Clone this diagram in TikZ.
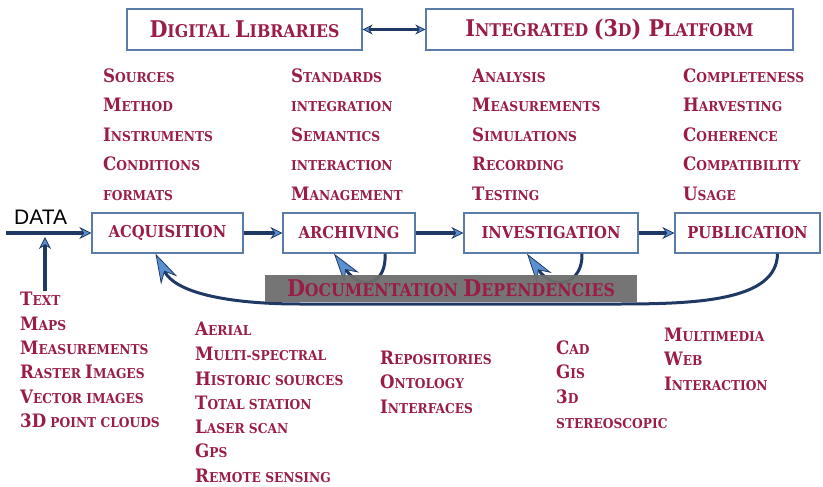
\documentclass[tikz,border=0pt]{standalone}
\usepackage{fontspec}
\setmainfont{Liberation Serif}
\newfontfamily\heavy{DejaVu Serif Condensed}[UprightFont={DejaVu Serif Condensed Bold}]
\newfontfamily\datafont{Liberation Sans}
\usetikzlibrary{arrows.meta}

\definecolor{crim}{HTML}{9A1C48}
\definecolor{boxedge}{HTML}{5B7BAB}
\definecolor{navy}{HTML}{1F3864}
\definecolor{tipblue}{HTML}{5B8FD0}
\definecolor{docgray}{HTML}{6E6E6E}

% hand-made heavy small caps: large initial, reduced capitals after it
\def\bgsize{18.5}\def\smsize{13.6}
\newcommand\Bg[1]{{\fontsize{\bgsize}{\bgsize}\selectfont #1}}
\newcommand\Sm[1]{{\fontsize{\smsize}{\smsize}\selectfont\MakeUppercase{#1}}}
\newcommand\sck[2]{\Bg{#1}\Sm{#2}}
\newcommand\titlesizes{\def\bgsize{23}\def\smsize{17.5}}

\tikzset{
  item/.style={anchor=base west, inner sep=0pt, text=crim, font=\heavy},
  stage/.style={draw=boxedge, line width=1.3pt, fill=white, text=crim,
    font=\heavy\fontsize{16.4}{16.4}\selectfont, minimum height=40pt, inner sep=0pt},
  topbox/.style={draw=boxedge, line width=1.3pt, fill=white, text=crim,
    font=\heavy\titlesizes, minimum height=41pt, inner sep=0pt},
  docbox/.style={fill=docgray, fill opacity=0.95, text opacity=1, text=crim,
    font=\heavy\titlesizes, minimum height=27pt, inner sep=0pt},
  flow/.style={draw=navy, line width=3.5pt,
    -{Stealth[length=12pt,width=12pt,fill=tipblue,line width=0.8pt]}},
  link/.style={draw=navy, line width=2.5pt,
    {Stealth[length=10pt,width=10pt,fill=tipblue,line width=0.8pt]}-{Stealth[length=10pt,width=10pt,fill=tipblue,line width=0.8pt]}},
  depend/.style={draw=navy, line width=3pt,
    -{Stealth[length=30pt,width=18pt,fill=tipblue,line width=0.8pt]}},
}

\begin{document}
\begin{tikzpicture}[x=1pt,y=-1pt]
\useasboundingbox (0,0) rectangle (823,487);

% platform boxes
\node[topbox, minimum width=235pt] (dl) at (244.5,29.5) {\sck{D}{igital }\sck{L}{ibraries}};
\node[topbox, minimum width=367pt] (ip) at (609.5,29.5) {\sck{I}{ntegrated }\Bg{(3}\Sm{d}\Bg{) }\sck{P}{latform}};
\draw[link] (dl.east) -- (ip.west);

% workflow stages
\node[stage, minimum width=151pt] (acq) at (167.5,233) {ACQUISITION};
\node[stage, minimum width=132pt] (arch) at (349,233) {ARCHIVING};
\node[stage, minimum width=174pt] (inv) at (551,233) {INVESTIGATION};
\node[stage, minimum width=145pt] (pub) at (747.5,233) {PUBLICATION};

\draw[flow] (acq.east) -- (arch.west);
\draw[flow] (arch.east) -- (inv.west);
\draw[flow] (inv.east) -- (pub.west);

% incoming data
\node[anchor=base west, inner sep=0pt, font=\datafont\fontsize{21}{21}\selectfont] (data) at (14,224) {DATA};
\coordinate (din) at (6,233);
\coordinate (tin) at (45,291);
\coordinate (tjoin) at (45,237);
\draw[flow] (din) -- (acq.west);
\draw[flow] (tin) -- (tjoin);

% documentation dependencies
\draw[depend] ([xshift=30pt]pub.south) .. controls (777,300) and (700,304) .. (620,304)
  -- (300,304) .. controls (225,304) and (175,292) .. ([xshift=-12pt]acq.south);
\draw[depend] ([xshift=36pt]arch.south) .. controls (387,284) and (362,292) .. ([xshift=-15pt]arch.south);
\draw[depend] ([xshift=31pt]inv.south) .. controls (583,284) and (554,292) .. ([xshift=-24pt]inv.south);
\node[docbox, minimum width=372pt] (doc) at (451,288.5) {\sck{D}{ocumentation }\sck{D}{ependencies}};

% acquisition properties
\node[item] (a1) at (103,83) {\sck{S}{ources}};
\node[item] (a2) at (103,112) {\sck{M}{ethod}};
\node[item] (a3) at (103,142) {\sck{I}{nstruments}};
\node[item] (a4) at (103,171) {\sck{C}{onditions}};
\node[item] (a5) at (103,200) {\Sm{formats}};

% archiving properties
\node[item] (b1) at (291,83) {\sck{S}{tandards}};
\node[item] (b2) at (291,112) {\Sm{integration}};
\node[item] (b3) at (291,142) {\sck{S}{emantics}};
\node[item] (b4) at (291,171) {\Sm{interaction}};
\node[item] (b5) at (291,200) {\sck{M}{anagement}};

% investigation properties
\node[item] (c1) at (472,83) {\sck{A}{nalysis}};
\node[item] (c2) at (472,112) {\sck{M}{easurements}};
\node[item] (c3) at (472,142) {\sck{S}{imulations}};
\node[item] (c4) at (472,171) {\sck{R}{ecording}};
\node[item] (c5) at (472,200) {\sck{T}{esting}};

% publication properties
\node[item] (d1) at (683,83) {\sck{C}{ompleteness}};
\node[item] (d2) at (683,112) {\sck{H}{arvesting}};
\node[item] (d3) at (683,142) {\sck{C}{oherence}};
\node[item] (d4) at (683,171) {\sck{C}{ompatibility}};
\node[item] (d5) at (683,200) {\sck{U}{sage}};

% data types
\node[item] (e1) at (20,305) {\sck{T}{ext}};
\node[item] (e2) at (20,330) {\sck{M}{aps}};
\node[item] (e3) at (20,354) {\sck{M}{easurements}};
\node[item] (e4) at (20,378) {\sck{R}{aster }\sck{I}{mages}};
\node[item] (e5) at (20,403) {\sck{V}{ector }\Sm{images}};
\node[item] (e6) at (20,427) {\Bg{3D}\Sm{ point clouds}};

% capture techniques
\node[item] (f1) at (195,335) {\sck{A}{erial}};
\node[item] (f2) at (195,360) {\sck{M}{ulti-spectral}};
\node[item] (f3) at (195,385) {\sck{H}{istoric sources}};
\node[item] (f4) at (195,409) {\sck{T}{otal station}};
\node[item] (f5) at (195,433) {\sck{L}{aser scan}};
\node[item] (f6) at (195,457) {\sck{G}{ps}};
\node[item] (f7) at (195,482) {\sck{R}{emote sensing}};

% archive infrastructure
\node[item] (g1) at (380,364) {\sck{R}{epositories}};
\node[item] (g2) at (380,388) {\sck{O}{ntology}};
\node[item] (g3) at (380,413) {\sck{I}{nterfaces}};

% investigation tools
\node[item] (h1) at (556,354) {\sck{C}{ad}};
\node[item] (h2) at (556,378) {\sck{G}{is}};
\node[item] (h3) at (556,403) {\Bg{3}\Sm{d}};
\node[item] (h4) at (556,428) {\Sm{stereoscopic}};

% publication channels
\node[item] (k1) at (664,341) {\sck{M}{ultimedia}};
\node[item] (k2) at (664,365) {\sck{W}{eb}};
\node[item] (k3) at (664,390) {\sck{I}{nteraction}};
\end{tikzpicture}
\end{document}
